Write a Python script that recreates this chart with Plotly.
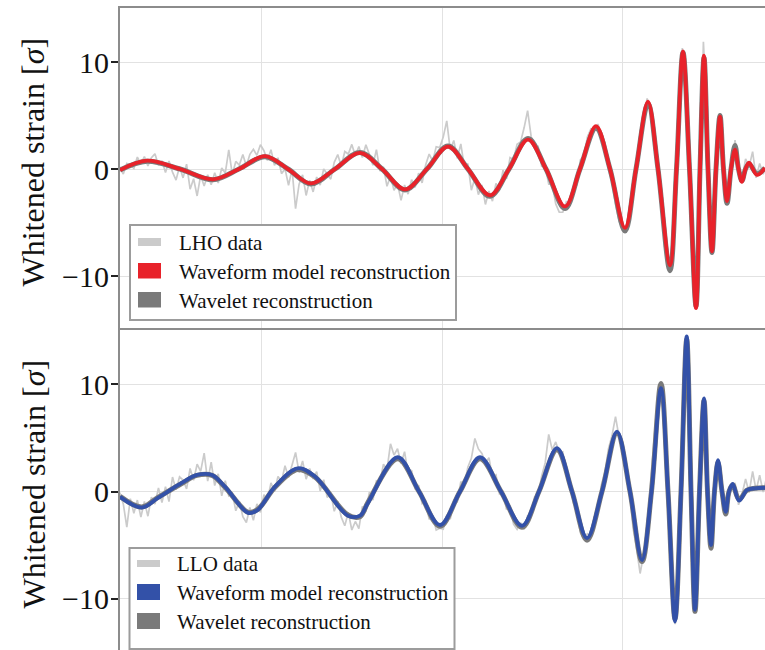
import numpy as np
import plotly.graph_objects as go

# ---------------- data ----------------
fs = 1024.0            # sample rate of whitened data (Hz)
t_start = 0.2605       # first sample time (s)

lho_data = [
    0.2, -0.47, 0.53, 0.38, 0.06, 1.12, 0.47, 1.16, 0.28, 1.06,
    1.42, 0.36, 0.77, -0.33, 0.75, -0.29, -1.03, 0.23, -0.83, 0.45,
    -1.89, -0.91, -2.52, -0.6, -1.59, -0.53, -1.46, -0.35, -1.31, 0.09,
    -0.38, 1.79, -0.51, 0.71, 0.37, 1.36, 0.28, 1.38, 1.85, 1.28,
    2.27, 1.71, 0.79, 1.81, 0.35, 1.05, -0.43, 0.01, -1.52, -0.03,
    -3.71, -1.42, -0.55, -2.47, -1.05, -2.14, -0.75, -1.51, 0.01, -0.44,
    -0.95, 0.63, 1.35, 0.26, 1.64, 1.4, 2.3, 1.24, 2.1, 1.08,
    2.26, 1.36, 0.35, 1.81, -0.19, 0.2, -1.61, -0.68, -1.99, -1.36,
    -2.93, -1.5, -2.35, -1.0, -1.72, -0.38, -1.3, 0.38, 1.4, 0.74,
    2.08, 2.0, 2.98, 4.5, 1.77, 2.67, 1.0, 2.34, 0.2, 0.51,
    -1.98, -0.83, -2.39, -1.49, -3.31, -2.05, -3.0, -1.34, -1.97, -0.1,
    -0.92, 1.07, 0.89, 2.31, 2.53, 3.85, 5.45, 3.05, 1.95, 2.1,
    0.27, 0.24, -1.4, -1.38, -3.26, -4.03, -4.04, -3.07, -3.4, -1.8,
    -1.5, 0.85, 1.23, 3.0, 3.75, 3.65, 4.2, 3.0, 2.5, -0.1,
    -1.2, -3.3, -4.85, -5.6, -5.23, -4.6, -1.9, 0.2, 3.5, 4.9,
    6.6, 5.46, 3.7, -0.27, -3.3, -7.3, -9.2, -8.4, -1.5, 6.0,
    11.3, 8.0, -0.2, -9.9, -12.65, -2.0, 11.9, 5.0, -5.6, -6.2,
    2.4, 4.3, -0.4, -3.3, 0.5, 2.7, -0.25, -0.9, 0.94, 0.2,
    1.62, -0.83, 0.52, -0.48, 0.4,
]

llo_data = [
    -0.1, -1.16, -3.33, -0.67, -2.03, -0.8, -2.4, -0.94, -2.31, -0.52,
    -1.18, 0.33, -1.03, 0.44, -0.95, 1.35, 0.15, 1.37, 1.07, 0.25,
    2.15, 1.05, 2.55, 1.88, 3.58, 0.97, 2.75, 0.55, 1.65, -0.4,
    1.02, -0.4, -0.15, -1.8, -0.9, -2.35, -2.9, -1.5, -2.7, -1.15,
    -1.95, -0.3, -0.8, 0.8, 0.0, 1.4, 0.95, 2.4, 1.3, 2.45,
    3.65, 1.76, 2.85, 1.15, 2.15, 1.18, 1.85, 0.05, 1.1, -0.55,
    -0.1, -1.85, -0.9, -2.4, -3.2, -1.96, -3.6, -2.8, -3.46, -1.4,
    -1.9, -0.05, -0.8, 1.0, 0.9, 2.55, 2.05, 4.45, 3.4, 4.0,
    2.6, 3.72, 1.65, 2.0, 0.2, 0.6, -1.12, -0.9, -2.6, -2.3,
    -3.6, -3.43, -3.53, -2.19, -2.58, -0.82, -0.96, 0.92, 0.61, 2.27,
    3.1, 4.95, 3.98, 3.56, 2.64, 3.16, 1.36, 1.55, -0.22, -0.01,
    -1.68, -1.32, -3.06, -3.54, -2.9, -3.53, -2.27, -2.34, -0.5, -0.41,
    1.45, 2.67, 5.34, 3.89, 4.63, 3.62, 3.7, 1.7, 1.07, -1.05,
    -1.67, -3.86, -4.48, -3.95, -4.25, -2.36, -1.86, 0.63, 1.82, 4.01,
    5.2, 7.0, 5.1, 4.68, 1.82, 0.0, -3.42, -5.36, -7.66, -5.84,
    -4.07, 0.96, 4.69, 8.93, 10.25, 5.86, -1.6, -9.5, -12.4, -5.45,
    5.67, 14.2, 7.8, -6.9, -10.26, 0.31, 8.8, 3.47, -5.23, -1.5,
    2.56, 1.85, -2.2, -0.84, 0.22, 0.8, -1.24, -0.23, 1.17, -0.1,
    1.87, 0.1, 1.52, -0.06, 1.35,
]

# reconstruction knots (time in s, strain in sigma)
lho_rec_t = [
    0.26056, 0.26806, 0.27722, 0.28639, 0.29361, 0.30083, 0.30722, 0.31361,
    0.32028, 0.32722, 0.33333, 0.33972, 0.34583, 0.35167, 0.35722, 0.36333,
    0.36861, 0.37389, 0.37889, 0.38417, 0.38833, 0.39278, 0.39667, 0.40083,
    0.40389, 0.40722, 0.41000, 0.41333, 0.41514, 0.41694, 0.41875, 0.42056,
    0.42167, 0.42278, 0.42389, 0.42500, 0.42611, 0.42722, 0.42819, 0.42917,
    0.43028, 0.43139, 0.43236, 0.43333, 0.43431, 0.43528, 0.43750, 0.43972,
]
lho_model = [
    -0.1, 0.78, 0.0, -0.96, 0.0, 1.21, 0.0, -1.35,
    0.0, 1.5, 0.0, -1.9, 0.0, 2.1, 0.0, -2.45,
    0.0, 2.75, 0.0, -3.5, 0.0, 4.0, 0.0, -5.5,
    0.0, 6.3, 0.0, -9.0, 0.0, 11.0, 0.0, -13.0,
    0.0, 10.6, 0.0, -7.7, 0.0, 4.9, 0.0, -3.0,
    0.0, 1.8, 0.0, -1.2, 0.0, 0.6, -0.55, 0.1,
]
lho_wavelet = [
    -0.1, 0.72, 0.0, -1.0, 0.0, 1.15, 0.0, -1.4,
    0.0, 1.55, 0.0, -1.95, 0.0, 2.15, 0.0, -2.55,
    0.0, 2.85, 0.0, -3.7, 0.0, 3.8, 0.0, -5.8,
    0.0, 6.1, 0.0, -9.5, 0.0, 10.9, 0.0, -12.8,
    0.0, 10.4, 0.0, -7.8, 0.0, 5.0, 0.0, -3.2,
    0.0, 2.2, 0.0, -1.1, 0.0, 0.5, -0.45, 0.1,
]

llo_rec_t = [
    0.26056, 0.26658, 0.27111, 0.27769, 0.28194, 0.28611, 0.28972, 0.29619,
    0.29889, 0.30361, 0.30992, 0.31472, 0.32389, 0.32722, 0.32944, 0.33769,
    0.34361, 0.34944, 0.35500, 0.36056, 0.36639, 0.37222, 0.37694, 0.38194,
    0.38611, 0.39028, 0.39444, 0.39861, 0.40222, 0.40556, 0.40819, 0.41083,
    0.41278, 0.41472, 0.41639, 0.41797, 0.41917, 0.42028, 0.42153, 0.42278,
    0.42375, 0.42472, 0.42569, 0.42667, 0.42778, 0.42881, 0.42972, 0.43075,
    0.43250, 0.43472, 0.43694, 0.43972,
]
llo_model = [
    -0.5, -1.5, -0.6, 0.8, 1.55, 1.55, 0.45, -2.0,
    -1.7, 0.45, 2.17, 1.4, -2.26, -2.26, -1.07, 3.2,
    0.0, -3.13, 0.0, 3.2, 0.0, -3.2, 0.0, 4.05,
    0.0, -4.35, 0.0, 5.6, 0.0, -6.4, 0.0, 9.65,
    0.0, -12.15, 0.0, 14.5, 0.0, -11.05, 0.0, 8.7,
    0.0, -5.0, 0.0, 2.94, 0.0, -1.89, 0.0, 0.7,
    -0.86, 0.14, 0.3, 0.35,
]
llo_wavelet = [
    -0.45, -1.45, -0.55, 0.75, 1.5, 1.5, 0.4, -1.95,
    -1.65, 0.4, 2.05, 1.35, -2.2, -2.35, -1.0, 3.05,
    0.0, -3.25, 0.0, 3.05, 0.0, -3.35, 0.0, 3.9,
    0.0, -4.55, 0.0, 5.45, 0.0, -6.55, 0.0, 10.1,
    0.0, -11.9, 0.0, 14.2, 0.0, -11.2, 0.0, 8.5,
    0.0, -5.3, 0.0, 2.7, 0.0, -2.1, 0.0, 0.6,
    -0.75, 0.12, 0.3, 0.35,
]

x_grid = [0.30, 0.35, 0.40]
y_ticks = [-10, 0, 10]
y_ticktext = ["\u221210", "0", "10"]
legend_top = ["LHO data", "Waveform model reconstruction", "Wavelet reconstruction"]
legend_bot = ["LLO data", "Waveform model reconstruction", "Wavelet reconstruction"]
y_title = "Whitened strain [<i>\u03c3</i>]"

# ---------------- style ----------------
FONT = "'Liberation Serif', 'Times New Roman', Times, 'DejaVu Serif', serif"
C_DATA = "#cbcbcb"
C_WAVELET = "#7a7a7a"
C_RED = "#e8222a"
C_BLUE = "#3351a8"
C_FRAME = "#8c8c8c"
C_GRID = "#e2e2e2"

W, H = 765, 650
ML, MT = 120, 8
PW, PH = W - ML, H - MT

t_data = t_start + np.arange(len(lho_data)) / fs


def px_x(p):
    return (p - ML) / PW


def px_y(p):
    return 1 - (p - MT) / PH


fig = go.Figure()
for data, model, wav, tk, color, xa, ya in [
    (lho_data, lho_model, lho_wavelet, lho_rec_t, C_RED, "x", "y"),
    (llo_data, llo_model, llo_wavelet, llo_rec_t, C_BLUE, "x2", "y2"),
]:
    fig.add_trace(go.Scatter(x=t_data, y=data, mode="lines",
                             line=dict(color=C_DATA, width=1.7),
                             xaxis=xa, yaxis=ya, hoverinfo="skip"))
    fig.add_trace(go.Scatter(x=tk, y=wav, mode="lines",
                             line=dict(color=C_WAVELET, width=5, shape="spline", smoothing=1.0),
                             xaxis=xa, yaxis=ya, hoverinfo="skip"))
    fig.add_trace(go.Scatter(x=tk, y=model, mode="lines",
                             line=dict(color=color, width=3.8, shape="spline", smoothing=1.0),
                             xaxis=xa, yaxis=ya, hoverinfo="skip"))

xr = [0.26056, 0.43972]
common_x = dict(range=xr, tickvals=x_grid, showticklabels=False, ticks="",
                showgrid=True, gridcolor=C_GRID, gridwidth=1, zeroline=False,
                showline=True, linecolor=C_FRAME, linewidth=2, automargin=False)
common_y = dict(tickvals=y_ticks, ticktext=y_ticktext, ticks="outside", ticklen=7,
                tickwidth=1.5, tickcolor="#222222", showgrid=True, gridcolor=C_GRID,
                gridwidth=1, zeroline=False, showline=True, linecolor=C_FRAME,
                linewidth=2, automargin=False, ticklabelstandoff=-4,
                tickfont=dict(family=FONT, size=30, color="#111111"))

fig.update_layout(
    width=W, height=H,
    margin=dict(l=ML, r=0, t=MT, b=0),
    paper_bgcolor="white", plot_bgcolor="white",
    showlegend=False,
    font=dict(family=FONT, color="#111111"),
    xaxis=dict(domain=[0, 1], anchor="y", mirror=True, **common_x),
    yaxis=dict(domain=[px_y(328), 1.0], anchor="x", range=[-14.86, 15.05], **common_y),
    xaxis2=dict(domain=[0, 1], anchor="y2", side="top", **common_x),
    yaxis2=dict(domain=[0.0, px_y(330)], anchor="x2", range=[-14.81, 15.09], **common_y),
)

shapes = []
annotations = []


def add_legend(box, rows, labels, colors, text_x):
    x0, x1, y0, y1 = box
    shapes.append(dict(type="rect", xref="paper", yref="paper",
                       x0=px_x(x0), x1=px_x(x1), y0=px_y(y1), y1=px_y(y0),
                       fillcolor="white", line=dict(color="#9c9c9c", width=2), layer="above"))
    for (py0, py1, pxa, pxb, cy), lab, col in zip(rows, labels, colors):
        shapes.append(dict(type="rect", xref="paper", yref="paper",
                           x0=px_x(pxa), x1=px_x(pxb), y0=px_y(py1), y1=px_y(py0),
                           fillcolor=col, line=dict(width=0), layer="above"))
        annotations.append(dict(text=lab, xref="paper", yref="paper",
                                x=px_x(text_x), y=px_y(cy), xanchor="left", yanchor="middle",
                                showarrow=False, font=dict(family=FONT, size=21, color="#111111")))


add_legend((130, 456, 225, 320),
           [(238, 246, 138, 161, 242.5), (263, 278.5, 138, 161, 271.5), (292, 307.5, 138, 161, 300.5)],
           legend_top, [C_DATA, C_RED, C_WAVELET], 177)
add_legend((129.5, 454.5, 548, 649),
           [(560, 567, 137, 160, 563.5), (584, 600, 137, 160, 592.5), (613, 629, 137, 160, 621.5)],
           legend_bot, [C_DATA, C_BLUE, C_WAVELET], 175)

for cy in (161.5, 483.5):
    annotations.append(dict(text=y_title, xref="paper", yref="paper",
                            x=px_x(33), y=px_y(cy), xanchor="center", yanchor="middle",
                            textangle=-90, showarrow=False,
                            font=dict(family=FONT, size=32, color="#111111")))

fig.update_layout(shapes=shapes, annotations=annotations)
fig.write_html("out.html")
